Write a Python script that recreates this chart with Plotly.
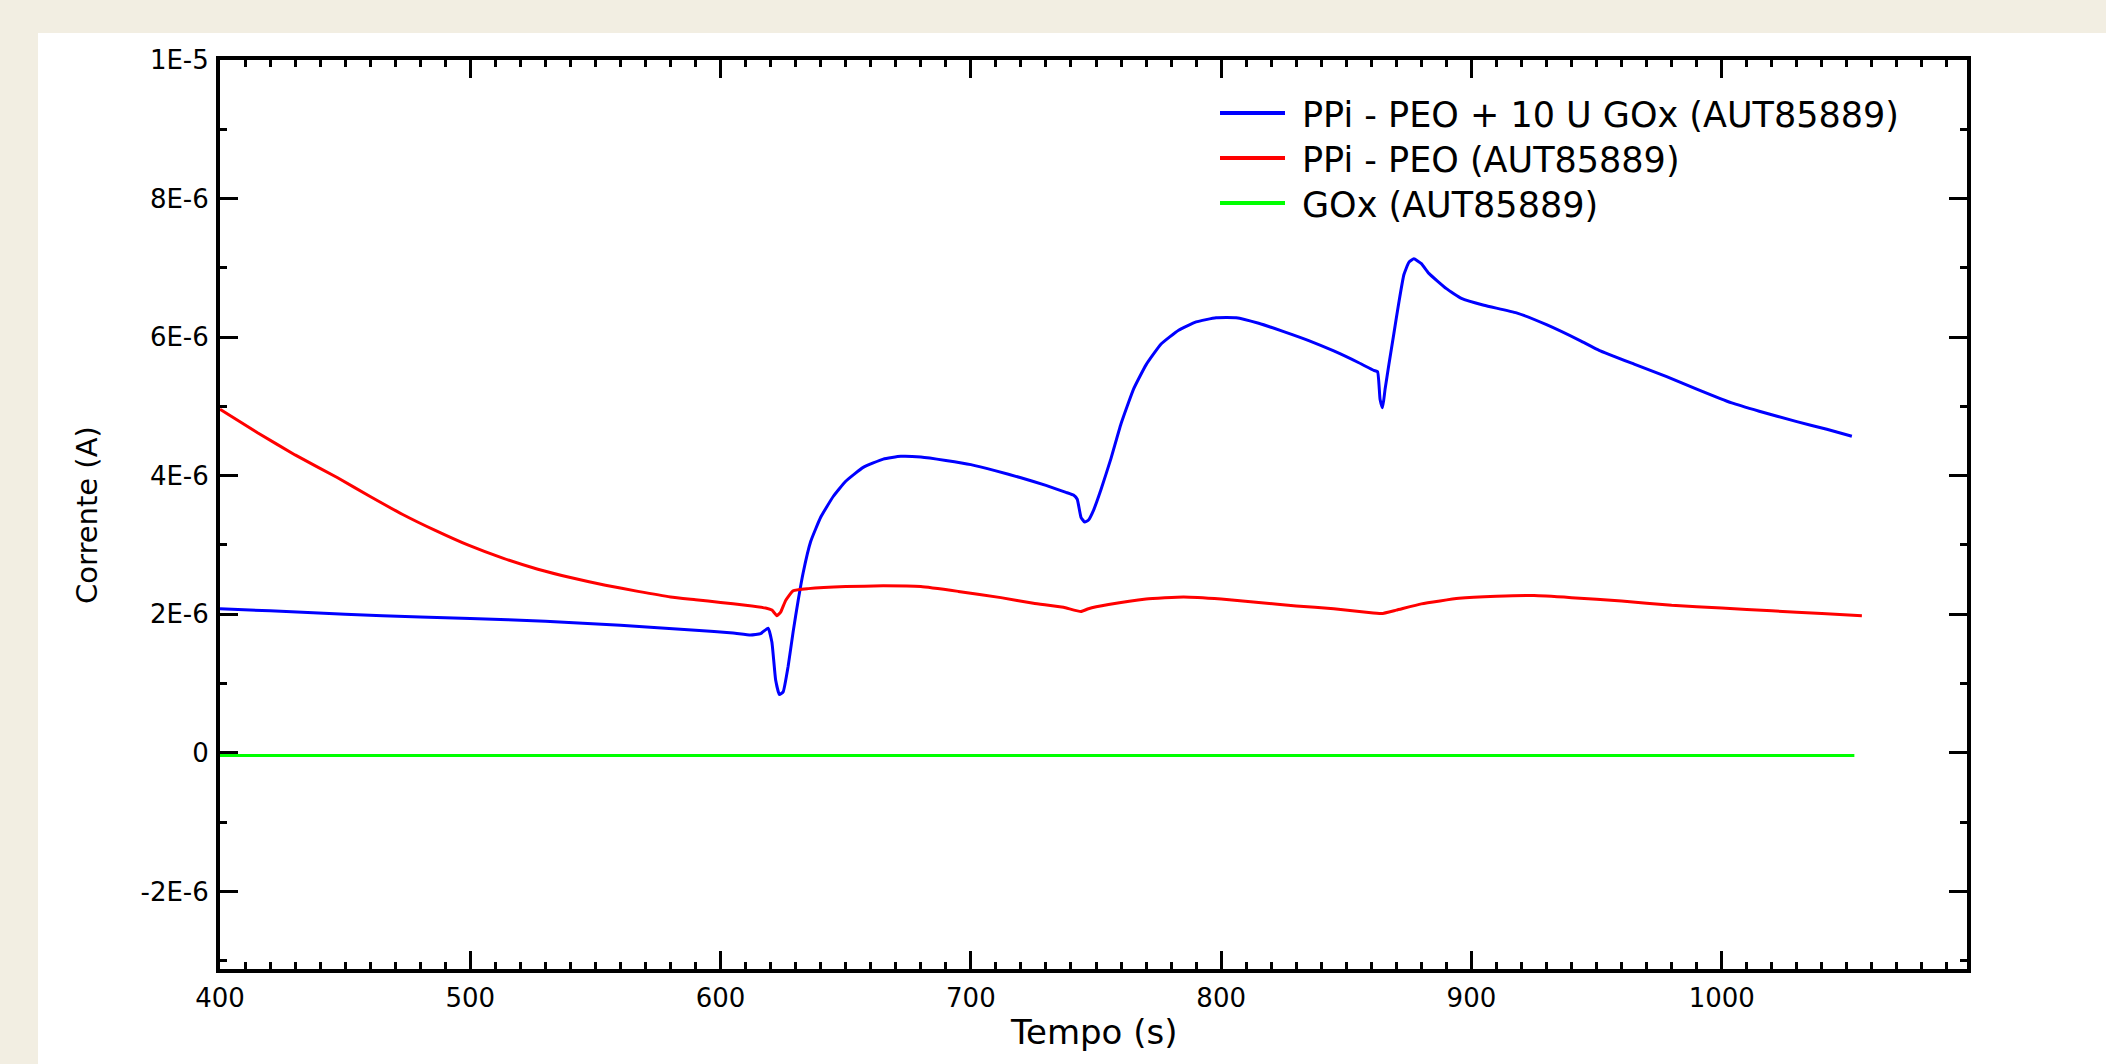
import numpy as np
import plotly.graph_objects as go

# ---------------- data (time in s, current in µA) ----------------
t_blue = [400, 420, 450, 480, 500, 530, 560, 590, 605, 612, 616, 619, 620.5, 622, 623.5, 625, 627, 629,
          631, 633, 636, 640, 645, 650, 657, 665, 672, 680, 690, 700, 710, 720, 730, 738, 741, 742.5,
          744, 745.5, 747, 749, 752, 756, 760, 765, 770, 776, 783, 790, 798, 806, 815, 825, 835, 845,
          855, 861, 862.5, 863.5, 864.5, 865.5, 867, 869, 871, 873, 875, 877, 880, 883, 890, 896, 905,
          918, 930, 944, 951, 965, 978, 990, 1004, 1015, 1030, 1042, 1052]
i_blue = [2.08, 2.05, 2.00, 1.96, 1.94, 1.90, 1.84, 1.77, 1.73, 1.70, 1.72, 1.80, 1.60, 1.05, 0.84, 0.88, 1.25, 1.75,
          2.20, 2.60, 3.05, 3.40, 3.70, 3.92, 4.12, 4.24, 4.28, 4.27, 4.22, 4.16, 4.07, 3.97, 3.86, 3.76, 3.72, 3.66,
          3.40, 3.33, 3.36, 3.50, 3.80, 4.25, 4.75, 5.25, 5.60, 5.90, 6.10, 6.22, 6.28, 6.28, 6.20, 6.08, 5.95, 5.80,
          5.63, 5.52, 5.50, 5.10, 4.98, 5.25, 5.60, 6.05, 6.50, 6.90, 7.08, 7.13, 7.06, 6.92, 6.70, 6.56, 6.46,
          6.35, 6.18, 5.94, 5.81, 5.61, 5.43, 5.25, 5.05, 4.93, 4.78, 4.67, 4.57]

t_red = [400, 415, 430, 447, 460, 473, 486, 499, 513, 527, 540, 554, 567, 580, 590, 600, 610, 618, 620.5, 622.5, 624,
         626, 629, 635, 650, 665, 680, 695, 712, 725, 737, 744, 747, 755, 770, 785, 800, 815, 830, 845,
         858, 864, 870, 880, 895, 910, 925, 940, 960, 980, 1000, 1020, 1040, 1056]
i_red = [4.96, 4.62, 4.30, 3.97, 3.70, 3.44, 3.21, 3.00, 2.81, 2.65, 2.53, 2.42, 2.33, 2.25, 2.21, 2.17, 2.13, 2.09, 2.06, 1.98, 2.03,
         2.20, 2.34, 2.37, 2.40, 2.41, 2.40, 2.33, 2.24, 2.16, 2.10, 2.04, 2.08, 2.14, 2.22, 2.25, 2.22, 2.17, 2.12, 2.08,
         2.03, 2.01, 2.06, 2.15, 2.23, 2.26, 2.27, 2.24, 2.19, 2.13, 2.09, 2.05, 2.01, 1.98]

t_green = [400, 600, 800, 1053]
i_green = [-0.04, -0.04, -0.04, -0.04]

series_names = ["PPi - PEO + 10 U GOx (AUT85889)", "PPi - PEO (AUT85889)", "GOx (AUT85889)"]
series_colors = ["#0000FF", "#FF0000", "#00FF00"]

x_tickvals = [400, 500, 600, 700, 800, 900, 1000]
y_tickvals = [-2e-6, 0, 2e-6, 4e-6, 6e-6, 8e-6, 1e-5]
y_ticktext = ["-2E-6", "0", "2E-6", "4E-6", "6E-6", "8E-6", "1E-5"]

x_title = "Tempo (s)"
y_title = "Corrente (A)"

# ---------------- layout geometry ----------------
W, H = 2106, 1064
L, R, T, B = 220, 1967, 60, 969


def px(xp):
    return (xp - L) / (R - L)


def py(yp):
    return (B - yp) / (B - T)


FONT = "DejaVu Sans"

fig = go.Figure()
for t, v, c, n in [(t_blue, i_blue, series_colors[0], series_names[0]),
                   (t_red, i_red, series_colors[1], series_names[1]),
                   (t_green, i_green, series_colors[2], series_names[2])]:
    fig.add_trace(go.Scatter(x=t, y=np.array(v) * 1e-6, mode="lines", name=n,
                             line=dict(color=c, width=3, shape="spline", smoothing=0.4), showlegend=False))

axis_common = dict(
    showline=True, linewidth=4, linecolor="black", mirror="ticks",
    ticks="inside", ticklen=18, tickwidth=3, tickcolor="black",
    showgrid=False, zeroline=False,
    tickfont=dict(family=FONT, size=26, color="black"),
)

fig.update_layout(
    width=W, height=H,
    margin=dict(l=L, r=W - R, t=T, b=H - B),
    paper_bgcolor="#F2EEE2",
    plot_bgcolor="white",
    xaxis=dict(range=[400, 1098], tickmode="array", tickvals=x_tickvals, ticklabelstandoff=3,
               minor=dict(dtick=10, tick0=400, ticklen=7, tickwidth=3, ticks="inside", tickcolor="black"),
               **axis_common),
    yaxis=dict(range=[-3.12e-6, 1e-5], tickmode="array", tickvals=y_tickvals, ticktext=y_ticktext,
               ticklabelstandoff=2,
               minor=dict(dtick=1e-6, tick0=0, ticklen=7, tickwidth=3, ticks="inside", tickcolor="black"),
               **axis_common),
    showlegend=False,
)

shapes = [dict(type="rect", xref="paper", yref="paper", x0=px(38), x1=px(W + 20), y0=py(H + 20), y1=py(33),
               fillcolor="white", line=dict(width=0), layer="below")]
annotations = []
legend_y = [113, 158, 203]
for ly, c, n in zip(legend_y, series_colors, series_names):
    shapes.append(dict(type="line", xref="paper", yref="paper", x0=px(1220), x1=px(1285), y0=py(ly), y1=py(ly),
                       line=dict(color=c, width=4)))
    annotations.append(dict(xref="paper", yref="paper", x=px(1300), y=py(ly + 2), xanchor="left", yanchor="middle",
                            text=n, showarrow=False, font=dict(family=FONT, size=35, color="black")))

annotations.append(dict(xref="paper", yref="paper", x=px(1093), y=py(1032), xanchor="center", yanchor="middle",
                        text=x_title, showarrow=False, font=dict(family=FONT, size=34, color="black")))
annotations.append(dict(xref="paper", yref="paper", x=px(87), y=py(515), xanchor="center", yanchor="middle",
                        text=y_title, textangle=-90, showarrow=False, font=dict(family=FONT, size=29, color="black")))

fig.update_layout(shapes=shapes, annotations=annotations)
fig.write_html("out.html", config={"displayModeBar": False},
               post_script="document.body.style.margin='0px';document.body.style.overflow='hidden';")
